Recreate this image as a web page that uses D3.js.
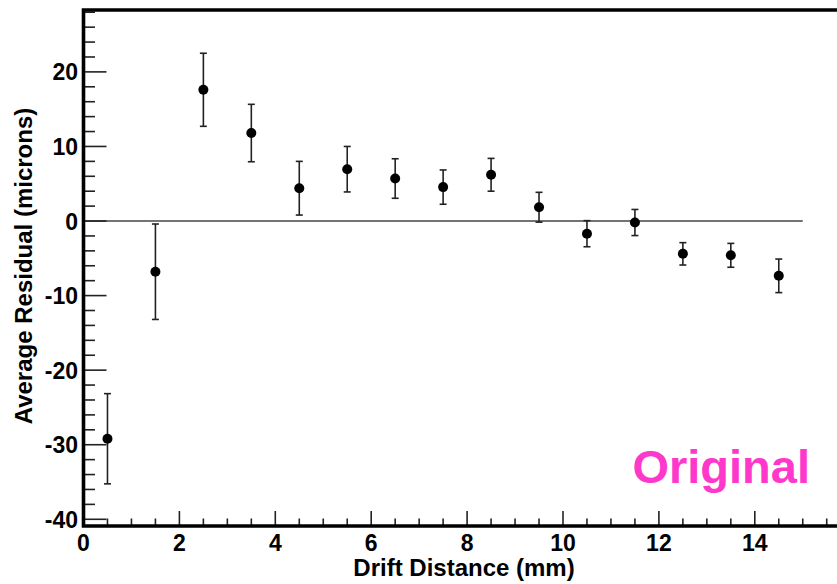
<!DOCTYPE html>
<html>
<head>
<meta charset="utf-8">
<script src="https://cdn.jsdelivr.net/npm/d3@7"></script>
<style>
  html, body { margin: 0; padding: 0; background: #fff; }
  svg { display: block; }
  text { font-family: "Liberation Sans", Arial, sans-serif; font-weight: bold; fill: #000; }
</style>
</head>
<body>
<svg id="chart" width="837" height="584"></svg>
<script>
// ---- data ----
const driftDistance = [0.5, 1.5, 2.5, 3.5, 4.5, 5.5, 6.5, 7.5, 8.5, 9.5, 10.5, 11.5, 12.5, 13.5, 14.5];
const avgResidual   = [-29.2, -6.8, 17.6, 11.8, 4.4, 6.95, 5.7, 4.55, 6.2, 1.85, -1.7, -0.2, -4.4, -4.6, -7.35];
const residualError = [6.05, 6.4, 4.9, 3.85, 3.6, 3.05, 2.65, 2.3, 2.2, 2.0, 1.75, 1.75, 1.5, 1.6, 2.25];
const xMajorTicks = [0, 2, 4, 6, 8, 10, 12, 14];
const yMajorTicks = [-40, -30, -20, -10, 0, 10, 20];
const xTitle = "Drift Distance (mm)";
const yTitle = "Average Residual (microns)";
const watermark = "Original";

// ---- layout ----
const svg = d3.select("#chart");
const plotLeft = 83.5, plotTop = 10, plotBottom = 526;
const x = d3.scaleLinear().domain([0, 16]).range([plotLeft, plotLeft + 16 * 47.95]);
const y = d3.scaleLinear().domain([-40.9, 28.3]).range([plotBottom, plotTop]);

// zero reference line
svg.append("line")
  .attr("x1", x(0)).attr("x2", x(15))
  .attr("y1", y(0)).attr("y2", y(0))
  .attr("stroke", "#444").attr("stroke-width", 1.6);

// y ticks (minor every 2, major every 10)
const yMinor = d3.range(-40, 28.01, 2);
const gy = svg.append("g");
gy.selectAll("line").data(yMinor).join("line")
  .attr("x1", plotLeft).attr("x2", d => plotLeft + (yMajorTicks.includes(d) ? 23 : 11.5))
  .attr("y1", d => y(d)).attr("y2", d => y(d))
  .attr("stroke", "#222").attr("stroke-width", 1.6);
gy.selectAll("text").data(yMajorTicks).join("text")
  .attr("x", 78).attr("y", d => y(d) + 8.5)
  .attr("text-anchor", "end").attr("font-size", 23)
  .text(d => d);

// x ticks (minor every 0.5, major every 2)
const xMinor = d3.range(0, 16.01, 0.5);
const gx = svg.append("g");
gx.selectAll("line").data(xMinor).join("line")
  .attr("x1", d => x(d)).attr("x2", d => x(d))
  .attr("y1", plotBottom).attr("y2", d => plotBottom - (xMajorTicks.includes(d) ? 15 : 7.5))
  .attr("stroke", "#222").attr("stroke-width", 1.6);
gx.selectAll("text").data(xMajorTicks).join("text")
  .attr("x", d => x(d)).attr("y", 551)
  .attr("text-anchor", "middle").attr("font-size", 23)
  .text(d => d);

// frame
svg.append("path")
  .attr("d", `M${x(16)},${plotTop} H${plotLeft} V${plotBottom} H${x(16)}`)
  .attr("fill", "none").attr("stroke", "#000").attr("stroke-width", 3.6);

// error bars
const pts = driftDistance.map((d, i) => ({ x: d, v: avgResidual[i], e: residualError[i] }));
const eb = svg.append("g").attr("stroke", "#222").attr("stroke-width", 1.6);
eb.selectAll("line.v").data(pts).join("line").attr("class", "v")
  .attr("x1", d => x(d.x)).attr("x2", d => x(d.x))
  .attr("y1", d => y(d.v + d.e)).attr("y2", d => y(d.v - d.e));
eb.selectAll("line.t").data(pts).join("line").attr("class", "t")
  .attr("x1", d => x(d.x) - 3.5).attr("x2", d => x(d.x) + 3.5)
  .attr("y1", d => y(d.v + d.e)).attr("y2", d => y(d.v + d.e));
eb.selectAll("line.b").data(pts).join("line").attr("class", "b")
  .attr("x1", d => x(d.x) - 3.5).attr("x2", d => x(d.x) + 3.5)
  .attr("y1", d => y(d.v - d.e)).attr("y2", d => y(d.v - d.e));

// markers
svg.append("g").selectAll("circle").data(pts).join("circle")
  .attr("cx", d => x(d.x)).attr("cy", d => y(d.v)).attr("r", 5)
  .attr("fill", "#000");

// axis titles
svg.append("text")
  .attr("x", 464).attr("y", 576)
  .attr("text-anchor", "middle").attr("font-size", 24)
  .text(xTitle);
svg.append("text")
  .attr("transform", "translate(32,266) rotate(-90)")
  .attr("text-anchor", "middle").attr("font-size", 24)
  .text(yTitle);

// watermark
svg.append("text")
  .attr("x", 810).attr("y", 483)
  .attr("text-anchor", "end").attr("font-size", 47)
  .style("fill", "#ff38cc")
  .text(watermark);
</script>
</body>
</html>
